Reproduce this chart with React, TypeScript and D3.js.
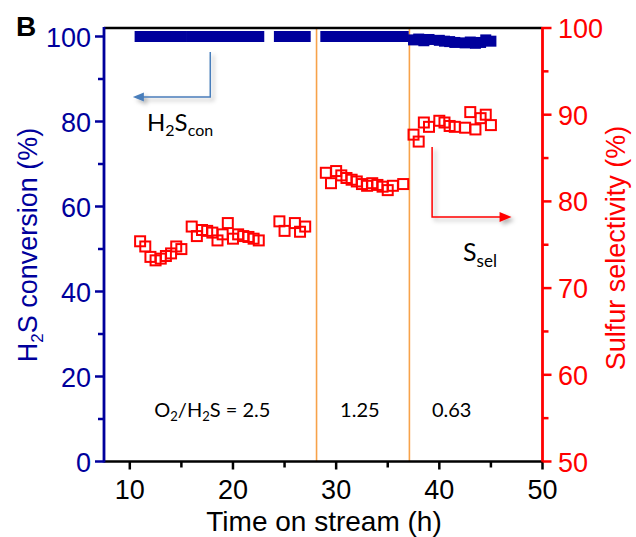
import * as d3 from 'd3'

// Time on stream (h)
const timeH = [
  11.0, 11.5, 12.0, 12.5, 13.0, 13.5, 14.0, 14.5, 15.0, 16.0, 16.5, 17.0, 17.5, 18.0, 18.5,
  19.0, 19.5, 20.0, 20.5, 21.0, 21.5, 22.0, 22.5,
  24.5, 25.0, 26.0, 26.5, 27.0,
  29.0, 29.5, 30.0, 30.5, 31.0, 31.5, 32.0, 32.5, 33.0, 33.5, 34.0, 34.5, 35.0, 35.5, 36.5,
  37.5, 38.0, 38.5, 39.0, 40.0, 40.5, 41.0, 41.5, 42.5, 43.0, 43.5, 44.0, 44.5, 45.0,
]
// H2S conversion (%)
const conversion = [
  100, 100, 100, 100, 100, 100, 100, 100, 100, 100, 100, 100, 100, 100, 100,
  100, 100, 100, 100, 100, 100, 100, 100,
  100, 100, 100, 100, 100,
  100, 100, 100, 100, 100, 100, 100, 100, 100, 100, 100, 100, 100, 100, 100,
  99.2, 99.4, 99.0, 99.3, 99.1, 98.9, 98.8, 98.6, 98.5, 98.7, 98.4, 98.6, 99.2, 98.9,
]
// Sulfur selectivity (%)
const selectivity = [
  75.4, 74.8, 73.6, 73.2, 73.4, 73.7, 74.0, 74.8, 74.5, 77.1, 76.0, 76.7, 76.6, 76.4, 75.5,
  76.2, 77.5, 75.7, 76.2, 76.0, 75.9, 75.7, 75.5,
  77.7, 76.6, 77.5, 76.5, 77.1,
  83.3, 82.1, 83.5, 83.0, 82.7, 82.5, 82.3, 82.0, 81.8, 82.1, 81.9, 81.7, 81.3, 81.8, 82.0,
  87.7, 86.9, 89.1, 88.6, 89.3, 89.1, 88.7, 88.6, 88.5, 90.3, 88.3, 89.6, 90.0, 88.8,
]

const xTicks = [10, 20, 30, 40, 50]
const xMinor = [15, 25, 35, 45]
const leftTicks = [0, 20, 40, 60, 80, 100]
const leftMinor = [10, 30, 50, 70, 90]
const rightTicks = [50, 60, 70, 80, 90, 100]
const rightMinor = [55, 65, 75, 85, 95]
const switchTimes = [28.1, 37.1]
const ratioLabels = [
  { t: 18.0, label: 'ratio' },
  { t: 32.3, label: '1.25' },
  { t: 41.2, label: '0.63' },
]

const W = 636
const H = 537
const BLUE = '#00009c'
const RED = '#ff0000'
const ORANGE = '#f7a24a'
const FONT = '"Liberation Sans", Arial, sans-serif'
const NOTE_FONT = 'Lato, "Open Sans", sans-serif'

export default function App() {
  const x = d3.scaleLinear().domain([7.5, 50]).range([104, 542.5])
  const yL = d3.scaleLinear().domain([0, 102]).range([461.5, 28])
  const yR = d3.scaleLinear().domain([50, 100]).range([461.5, 28])
  const [x0, x1] = x.range()
  const [yB, yT] = yL.range()
  const sq = 10

  return (
    <svg width={W} height={H} style={{ position: 'absolute', left: 0, top: 0, background: '#fff' }}>
      <defs>
        <filter id="shadow" x="-20%" y="-20%" width="150%" height="150%">
          <feDropShadow dx="3" dy="3" stdDeviation="2" floodColor="#000" floodOpacity="0.3" />
        </filter>
      </defs>

      {/* phase separators */}
      {switchTimes.map((t) => (
        <line key={t} x1={x(t)} x2={x(t)} y1={yT} y2={yB} stroke={ORANGE} strokeWidth={1.6} />
      ))}

      {/* conversion points */}
      {timeH.map((t, i) => (
        <rect key={'c' + i} x={x(t) - sq / 2 - 0.5} y={yL(conversion[i]) - sq / 2 - 0.5}
          width={sq + 1} height={sq + 1} fill={BLUE} />
      ))}

      {/* selectivity points */}
      {timeH.map((t, i) => (
        <rect key={'s' + i} x={x(t) - sq / 2} y={yR(selectivity[i]) - sq / 2}
          width={sq} height={sq} fill="none" stroke={RED} strokeWidth={2} />
      ))}

      {/* frame */}
      <line x1={x0} x2={x1} y1={yT} y2={yT} stroke="#000" strokeWidth={2.5} />
      <line x1={x0} x2={x1} y1={yB} y2={yB} stroke="#000" strokeWidth={2.5} />
      <line x1={x0} x2={x0} y1={yT - 1} y2={yB + 1} stroke={BLUE} strokeWidth={2.8} />
      <line x1={x1} x2={x1} y1={yT - 1} y2={yB + 1} stroke={RED} strokeWidth={2.8} />

      {/* x axis */}
      {xTicks.map((t) => (
        <g key={'x' + t}>
          <line x1={x(t)} x2={x(t)} y1={yB} y2={yB + 8} stroke="#000" strokeWidth={2.5} />
          <text x={x(t)} y={499} textAnchor="middle" fontFamily={FONT} fontSize={27} fill="#000">{t}</text>
        </g>
      ))}
      {xMinor.map((t) => (
        <line key={'xm' + t} x1={x(t)} x2={x(t)} y1={yB} y2={yB + 6} stroke="#000" strokeWidth={2.5} />
      ))}
      <text x={324} y={531} textAnchor="middle" fontFamily={FONT} fontSize={28} fill="#000">Time on stream (h)</text>

      {/* left axis */}
      {leftTicks.map((t) => (
        <g key={'l' + t}>
          <line x1={x0 - 9} x2={x0} y1={yL(t)} y2={yL(t)} stroke={BLUE} strokeWidth={2.5} />
          <text x={91} y={yL(t) + 10} textAnchor="end" fontFamily={FONT} fontSize={27} fill={BLUE}>{t}</text>
        </g>
      ))}
      {leftMinor.map((t) => (
        <line key={'lm' + t} x1={x0 - 6} x2={x0} y1={yL(t)} y2={yL(t)} stroke={BLUE} strokeWidth={2.5} />
      ))}
      <text transform="translate(37,245) rotate(-90)" textAnchor="middle" fontFamily={FONT} fontSize={27} fill={BLUE}>
        H<tspan fontSize={17} dy={6}>2</tspan><tspan dy={-6}>S conversion (%)</tspan>
      </text>

      {/* right axis */}
      {rightTicks.map((t) => (
        <g key={'r' + t}>
          <line x1={x1} x2={x1 + 9} y1={yR(t)} y2={yR(t)} stroke={RED} strokeWidth={2.5} />
          <text x={558} y={yR(t) + 10} textAnchor="start" fontFamily={FONT} fontSize={27} fill={RED}>{t}</text>
        </g>
      ))}
      {rightMinor.map((t) => (
        <line key={'rm' + t} x1={x1} x2={x1 + 6} y1={yR(t)} y2={yR(t)} stroke={RED} strokeWidth={2.5} />
      ))}
      <text transform="translate(625,248) rotate(-90)" textAnchor="middle" fontFamily={FONT} fontSize={27} fill={RED}>
        Sulfur selectivity (%)
      </text>

      {/* panel letter */}
      <text x={16} y={36} fontFamily={FONT} fontWeight="bold" fontSize={28} fill="#000">B</text>

      {/* H2Scon arrow */}
      <g filter="url(#shadow)">
        <polyline points={`${x(17.8)},52 ${x(17.8)},97 ${x(10.3) + 8},97`} fill="none" stroke="#4a7ebb" strokeWidth={1.5} />
        <polygon points={`${x(10.3)},97 ${x(10.3) + 11},92.5 ${x(10.3) + 11},101.5`} fill="#4a7ebb" />
      </g>
      <text x={147} y={131} fontFamily={NOTE_FONT} fontSize={24} fill="#000">
        H<tspan fontSize={16} dy={5}>2</tspan><tspan dy={-5}>S</tspan><tspan fontSize={16} dy={5}>con</tspan>
      </text>

      {/* Ssel arrow */}
      <g filter="url(#shadow)">
        <polyline points={`${x(39.3)},147 ${x(39.3)},217 ${x(47.0) - 8},217`} fill="none" stroke={RED} strokeWidth={1.5} />
        <polygon points={`${x(47.0)},217 ${x(47.0) - 12},212 ${x(47.0) - 12},222`} fill={RED} />
      </g>
      <text x={463} y={261} fontFamily={NOTE_FONT} fontSize={25} fill="#000">
        S<tspan fontSize={17} dy={6}>sel</tspan>
      </text>

      {/* feed ratio labels */}
      {ratioLabels.map((r) => (
        <text key={r.label} x={x(r.t)} y={417} textAnchor="middle" fontFamily={NOTE_FONT} fontSize={20} fill="#000">
          {r.label === 'ratio' ? (
            <>O<tspan fontSize={13} dy={4}>2</tspan><tspan dy={-4}>/H</tspan><tspan fontSize={13} dy={4}>2</tspan><tspan dy={-4}>S = 2.5</tspan></>
          ) : r.label}
        </text>
      ))}
    </svg>
  )
}
